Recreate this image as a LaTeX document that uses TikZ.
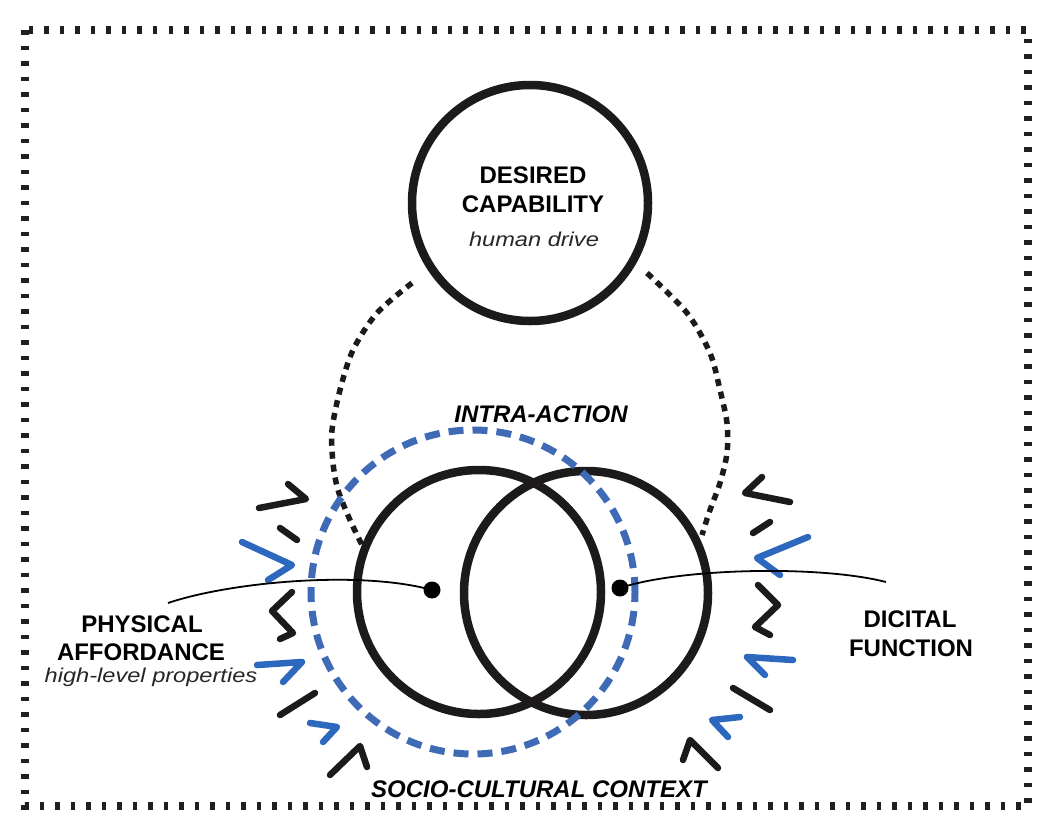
\documentclass[tikz,border=0pt]{standalone}
\usepackage{fontspec}
\setmainfont{Liberation Sans}
\newfontfamily\lightit[FakeStretch=1.18]{Liberation Sans}
\definecolor{ink}{RGB}{28,26,26}
\definecolor{dashblue}{RGB}{62,106,182}
\definecolor{tickblue}{RGB}{44,104,190}
\begin{document}
\begin{tikzpicture}[x=1pt,y=-1pt,
  ring/.style={circle, draw=ink, line width=8.5pt, inner sep=0pt},
  bluering/.style={circle, draw=dashblue, line width=7pt, dash pattern=on 15pt off 9pt, inner sep=0pt},
  dotpath/.style={draw=ink, line width=5.5pt, dash pattern=on 7pt off 6pt},
  frame/.style={draw=black!88, line width=8.5pt, dash pattern=on 4.5pt off 11pt},
  tick/.style={line width=6.5pt, line cap=round, line join=round},
  btick/.style={tick, draw=ink},
  ctick/.style={tick, draw=tickblue},
  thin/.style={line width=1.8pt, draw=black},
  hub/.style={circle, fill=black, minimum size=17pt, inner sep=0pt},
  lbl/.style={font=\fontsize{24}{28}\selectfont\bfseries, anchor=base, inner sep=0pt},
  lbli/.style={font=\fontsize{24}{28}\selectfont\bfseries\itshape, anchor=base, inner sep=0pt},
  sub/.style={font=\lightit\itshape\fontsize{20}{24}\selectfont, text=black!85, anchor=base, inner sep=0pt}]
\useasboundingbox (0,0) rectangle (1063,836);
\fill[white] (0,0) rectangle (1063,836);

% frame
\draw[frame] (25,30) rectangle (1028,806);

% dotted enclosing curve
\draw[dotpath] plot[smooth] coordinates {(412,283) (377,313) (353,350) (340,390) (332,430) (333,463) (338,490) (350,520) (362,545)};
\draw[dotpath] plot[smooth] coordinates {(647,273) (687,313) (710,353) (720,390) (727,423) (727,453) (720,483) (710,510) (702,535)};

% circles
\node[ring, minimum size=236pt] (cap) at (530,203) {};
\node[ring, minimum size=244pt] (phys) at (479,592) {};
\node[ring, minimum size=244pt] (digi) at (586,593) {};
\node[bluering, minimum size=324pt] (intra) at (473,592) {};

% left ticks
\draw[btick] (259,508) -- (306,499) -- (288,484);
\draw[btick] (280,528) -- (297,540);
\draw[ctick] (242,542) -- (292,565) -- (268,580);
\draw[btick] (292,592) -- (272,611) -- (293,633) -- (280,639);
\draw[ctick] (257,665) -- (302,662) -- (283,682);
\draw[btick] (280,715) -- (315,693);
\draw[ctick] (310,723) -- (337,727) -- (323,742);
\draw[btick] (330,775) -- (360,746) -- (367,767);

% right ticks
\draw[btick] (790,502) -- (745,493) -- (762,477);
\draw[btick] (753,533) -- (770,522);
\draw[ctick] (808,537) -- (757,558) -- (780,575);
\draw[btick] (758,585) -- (778,605) -- (755,627) -- (770,635);
\draw[ctick] (793,660) -- (747,657) -- (765,675);
\draw[btick] (733,688) -- (770,710);
\draw[ctick] (740,717) -- (712,720) -- (728,737);
\draw[btick] (683,760) -- (690,740) -- (718,768);

% hubs and leader lines
\node[hub] (dl) at (432,590) {};
\node[hub] (dr) at (620,588) {};
\coordinate (le) at (168,603);
\coordinate (re) at (886,582);
\draw[thin] (le) .. controls (230,582) and (360,570) .. (dl.center);
\draw[thin] (dr.center) .. controls (680,568) and (820,565) .. (re);

% texts
\node[lbl] (t1) at (533,183) {DESIRED};
\node[lbl] (t2) at (533,212) {CAPABILITY};
\node[sub] (t3) at (534,246) {human drive};
\node[lbli] (ia) at (541,422) {INTRA-ACTION};
\node[lbl] (p1) at (142,632) {PHYSICAL};
\node[lbl] (p2) at (141,660) {AFFORDANCE};
\node[sub] (p3) at (151,682) {high-level properties};
\node[lbl] (d1) at (910,627) {DICITAL};
\node[lbl] (d2) at (911,656) {FUNCTION};
\node[lbli] (sc) at (539,797) {SOCIO-CULTURAL CONTEXT};
\end{tikzpicture}
\end{document}
